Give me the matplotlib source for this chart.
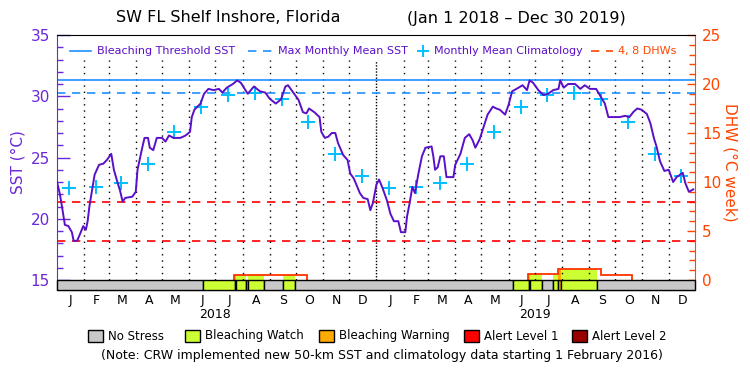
import numpy as np
import pandas as pd
import matplotlib
matplotlib.use("Agg")
import matplotlib.pyplot as plt
from matplotlib.lines import Line2D
from matplotlib.patches import Rectangle

# ---------- data ----------
start = pd.Timestamp("2018-01-01")

# daily SST curve, sampled every few days (day offset from Jan 1 2018, degC)
sst_day = [0, 3, 5, 9, 13, 17, 19, 23, 26, 30, 33, 35, 37, 40, 43, 48, 53, 57, 62, 65,
           69, 72, 75, 78, 86, 90, 92, 95, 98, 100, 104, 106, 110, 114, 120, 124, 128, 133, 141, 147,
           152, 154, 157, 164, 168, 173, 179, 185, 189, 194, 201, 206, 210, 218, 225, 232, 238, 243, 250, 256,
           261, 264, 270, 276, 281, 285, 288, 294, 300, 302, 306, 310, 314, 318, 321, 327, 332, 335, 339, 342,
           346, 350, 355, 358, 361, 365, 368, 372, 377, 381, 385, 390, 393, 398, 400, 403, 406, 409, 413, 417,
           421, 428, 430, 432, 435, 438, 442, 445, 453, 455, 461, 466, 471, 475, 478, 483, 487, 492, 498, 502,
           506, 512, 516, 520, 525, 532, 537, 540, 544, 550, 556, 561, 567, 573, 575, 579, 584, 592, 598, 603,
           609, 616, 621, 626, 630, 636, 643, 649, 654, 659, 663, 668, 674, 678, 682, 685, 689, 694, 699, 704,
           708, 715, 718, 722, 727]
sst_val = [23.0, 22.1, 21.3, 19.5, 19.4, 18.9, 18.2, 18.2, 18.7, 19.4, 19.1, 19.8, 21.0, 22.3, 23.6, 24.4, 24.5, 24.8, 25.3, 24.0,
           23.0, 22.3, 21.4, 21.7, 21.8, 22.2, 24.0, 25.0, 26.0, 26.6, 26.6, 25.8, 25.6, 26.6, 26.6, 26.3, 26.8, 26.6, 26.6, 26.8,
           27.1, 28.3, 28.9, 29.4, 30.2, 30.6, 30.5, 30.6, 30.3, 30.7, 31.0, 31.3, 31.1, 30.2, 30.8, 30.4, 30.3, 29.8, 29.4, 29.75,
           30.8, 30.9, 30.3, 29.7, 28.7, 28.6, 29.0, 28.7, 28.3, 27.1, 26.6, 26.7, 27.0, 27.0, 26.2, 25.2, 24.8, 23.7, 23.3, 22.8,
           22.1, 21.7, 21.6, 20.7, 21.3, 22.8, 23.2, 22.5, 21.5, 20.4, 19.8, 19.8, 18.9, 18.9, 20.2, 21.3, 22.6, 22.1, 23.7, 25.1,
           25.8, 25.9, 25.1, 24.0, 24.2, 25.1, 25.1, 23.4, 23.4, 24.4, 25.3, 26.6, 26.9, 26.4, 25.8, 26.5, 27.4, 28.5, 29.15, 29.0,
           28.9, 28.5, 29.3, 30.4, 30.6, 30.9, 30.5, 31.3, 31.1, 30.5, 30.1, 30.2, 30.5, 30.6, 31.3, 30.7, 31.0, 31.0, 30.6, 30.9,
           30.6, 30.6, 30.0, 29.4, 28.3, 28.3, 28.3, 28.4, 28.3, 28.75, 29.0, 28.9, 28.55, 27.8, 26.6, 25.9, 24.7, 23.9, 24.0, 23.0,
           23.4, 23.75, 22.9, 22.2, 22.4]

# monthly mean climatology (same for both years)
clim_month = ["J", "F", "M", "A", "M", "J", "J", "A", "S", "O", "N", "D"]
clim_val = [22.5, 22.6, 22.9, 24.5, 27.05, 29.1, 30.1, 30.3, 29.8, 27.9, 25.3, 23.5]
mmm = 30.25
threshold = 31.3
dhw_levels = [4, 8]

# daily alert level bar: segment edges (days) and level (0 none, 1 watch, 2 warning)
stress_edges = [0, 167, 203, 204, 216, 218.5, 236.6, 258.6, 272.4, 520.8, 539.4, 540.5,
                554, 566.5, 572.2, 575.6, 617.5, 729]
stress_level = [0, 1, 2, 1, 0, 1, 0, 1, 0, 1, 2, 1, 0, 1, 2, 1, 0]

# degree heating weeks, only the runs above zero
dhw18_edges = [202.7, 286]
dhw18_vals = [0.48]
dhw19_edges = [538.3, 573, 622, 657.5]
dhw19_vals = [0.58, 1.12, 0.48]

stress_names = ["No Stress", "Bleaching Watch", "Bleaching Warning", "Alert Level 1", "Alert Level 2"]
stress_colors = ["#c8c8c8", "#ccff33", "#ffaa00", "#ff0000", "#990000"]

# ---------- styling ----------
PURPLE = "#5a0fc8"
PTXT = "#6a28d8"
BLUE = "#1e90ff"
CYAN = "#00c0ff"
ORANGE = "#ff4500"

W, H = 750, 375


def fx(x):
    return x / W


def fy(y):
    return 1 - y / H


fig = plt.figure(figsize=(7.5, 3.75), dpi=100)
ax = fig.add_axes([fx(57), fy(290), 638 / W, 255 / H])
ax2 = ax.twinx()
ax.set_zorder(ax2.get_zorder() + 1)
ax.patch.set_visible(False)

ymin = 15 - 10 / 12.25
ax.set_xlim(0, 729)
ax.set_ylim(ymin, 35)
ax2.set_ylim((ymin - 15) / 0.8, 25)

# months
all_months = pd.date_range("2018-01-01", "2019-12-01", freq="MS")
month_off = np.array([(d - start).days for d in all_months])
month_len = np.array([d.days_in_month for d in all_months])

# month grid
for d in month_off[1:]:
    style = (0, (1, 1.2)) if d == 365 else (0, (1, 3.5))
    ax.plot([d, d], [15, 33], color="black", lw=1, ls=style, zorder=1)

# reference lines
ax.axhline(threshold, color=BLUE, lw=1.2, zorder=2)
ax.axhline(mmm, color=BLUE, lw=1.2, ls=(0, (5, 4)), zorder=2)
for lv in dhw_levels:
    ax2.axhline(lv, color="red", lw=1.2, ls=(0, (5, 4)))

# climatology at mid-month
ax.plot(month_off + 14, clim_val * 2, ls="none", marker="+", ms=10, mew=1.4, color=CYAN, zorder=3)

# SST curve
ax.plot(sst_day, sst_val, color=PURPLE, lw=1.4, zorder=4)

# stress bar
for a, b, lv in zip(stress_edges[:-1], stress_edges[1:], stress_level):
    ax.add_patch(Rectangle((a, ymin), b - a, 15 - ymin, facecolor=stress_colors[lv],
                           edgecolor="black", lw=1, zorder=5, clip_on=False))


# DHW fill coloured by alert level, and outline
def dhw_at(d):
    for edges, vals in ((dhw18_edges, dhw18_vals), (dhw19_edges, dhw19_vals)):
        for a, b, v in zip(edges[:-1], edges[1:], vals):
            if a <= d < b:
                return v
    return 0.0


all_dhw_edges = dhw18_edges + dhw19_edges
for a, b, lv in zip(stress_edges[:-1], stress_edges[1:], stress_level):
    if lv == 0:
        continue
    xs = [a] + [e for e in all_dhw_edges if a < e < b] + [b]
    ys = [dhw_at(x) for x in xs]
    ax2.fill_between(xs, 0, ys, step="post", color=stress_colors[lv], lw=0)
for edges, vals in ((dhw18_edges, dhw18_vals), (dhw19_edges, dhw19_vals)):
    ax2.stairs(vals, edges, baseline=0, color="#ff3300", lw=1.3)

# axes styling
ax.set_yticks([15, 20, 25, 30, 35])
ax.set_yticks(np.arange(15, 36, 1), minor=True)
ax.tick_params(axis="y", which="major", direction="in", length=9.5, width=1, colors=PTXT,
               labelsize=11, pad=5)
ax.tick_params(axis="y", which="minor", direction="in", length=4.5, width=1, colors=PTXT)
ax2.set_yticks([0, 5, 10, 15, 20, 25])
ax2.set_yticks(np.arange(0, 26, 1), minor=True)
ax2.tick_params(axis="y", which="major", direction="in", length=6, width=1, colors=ORANGE,
                labelsize=11, pad=5)
ax2.tick_params(axis="y", which="minor", direction="in", length=4.5, width=1, colors=ORANGE)

ax.set_xticks(month_off + month_len / 2, clim_month * 2)
ax.tick_params(axis="x", length=0, labelsize=9, pad=3)

ax.spines["left"].set_color(PTXT)
ax.spines["right"].set_visible(False)
for s in ("left", "top", "bottom"):
    ax2.spines[s].set_visible(False)
ax2.spines["right"].set_color(ORANGE)

ax.set_ylabel("SST (°C)", color=PTXT, fontsize=11, labelpad=4)
ax2.set_ylabel("DHW (°C week)", color=ORANGE, fontsize=11, rotation=270, labelpad=12)

for yr, off in (("2018", month_off[6]), ("2019", month_off[18])):
    ax.text(off, -0.095, yr, transform=ax.get_xaxis_transform(), ha="center", va="center", fontsize=9)

# title
fig.text(fx(228), fy(18), "SW FL Shelf Inshore, Florida", ha="center", va="center", fontsize=11.5)
fig.text(fx(516), fy(18), "(Jan 1 2018 \u2013 Dec 30 2019)", ha="center", va="center", fontsize=11.5)

# top legend
ly = fy(51)
fs = 8
fig.add_artist(Line2D([fx(70), fx(91)], [ly, ly], color=BLUE, lw=1.2))
fig.text(fx(97), ly, "Bleaching Threshold SST", color=PURPLE, fontsize=fs, va="center")
fig.add_artist(Line2D([fx(248), fx(272)], [ly, ly], color=BLUE, lw=1.2, ls=(0, (5, 4))))
fig.text(fx(278), ly, "Max Monthly Mean SST", color=PURPLE, fontsize=fs, va="center")
fig.add_artist(Line2D([fx(423)], [ly], color=CYAN, marker="+", ms=9, mew=1.4))
fig.text(fx(434), ly, "Monthly Mean Climatology", color=PURPLE, fontsize=fs, va="center")
fig.add_artist(Line2D([fx(591), fx(613)], [ly, ly], color=ORANGE, lw=1.2, ls=(0, (5, 4))))
fig.text(fx(618), ly, "4, 8 DHWs", color=ORANGE, fontsize=fs, va="center")

# bottom legend
box_x = [88, 185, 319, 464, 572]
by = 336
for bx, name, col in zip(box_x, stress_names, stress_colors):
    fig.add_artist(Rectangle((fx(bx), fy(by + 6)), 15 / W, 12 / H, facecolor=col,
                             edgecolor="black", lw=1, transform=fig.transFigure))
    fig.text(fx(bx + 20), fy(by), name, fontsize=8.5, va="center")

fig.text(fx(382), fy(355), "(Note: CRW implemented new 50-km SST and climatology data starting 1 February 2016)",
         ha="center", va="center", fontsize=9)

fig.savefig("out.png", dpi=100)
